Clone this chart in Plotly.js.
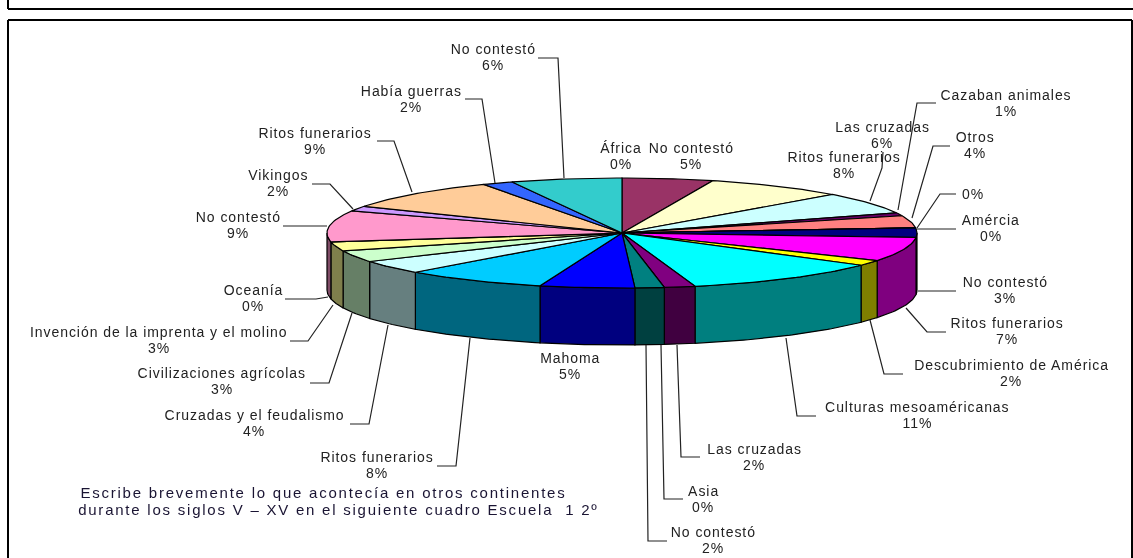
<!DOCTYPE html>
<html>
<head>
<meta charset="utf-8">
<script src="https://cdn.plot.ly/plotly-3.0.1.min.js"></script>
<style>
html,body{margin:0;padding:0;background:#fff;}
#chart{width:1133px;height:558px;filter:blur(0.35px);}
#chart .annotation-text{letter-spacing:0.95px;}
#chart .annotation[data-index="0"] .annotation-text,
#chart .annotation[data-index="1"] .annotation-text{letter-spacing:1.77px;}
</style>
</head>
<body>
<div id="chart"></div>
<script>
// ---- data (clockwise from 12 o'clock) ----
var categories = ["África","No contestó","Ritos funerarios","Las cruzadas","Cazaban animales","Otros","","Amércia","No contestó","Ritos funerarios","Descubrimiento de América","Culturas mesoaméricanas","Las cruzadas","Asia","No contestó","Mahoma","Ritos funerarios","Cruzadas y el feudalismo","Civilizaciones agrícolas","Invención de la imprenta y el molino","Oceanía","No contestó","Vikingos","Ritos funerarios","Había guerras","No contestó"];
var values = [0,5.0,7.7,6.4,0.9,3.6,0,0,2.8,7.1,1.6,11.1,1.7,0,1.6,5.2,7.9,4.0,3.4,2.7,0,9.2,1.5,9.2,1.7,6.1];
var colors = ["#9999FF","#993366","#FFFFCC","#CCFFFF","#660066","#FF8080","#0066CC","#CCCCFF","#000080","#FF00FF","#FFFF00","#00FFFF","#800080","#800000","#008080","#0000FF","#00CCFF","#CCFFFF","#CCFFCC","#FFFF99","#99CCFF","#FF99CC","#CC99FF","#FFCC99","#3366FF","#33CCCC"];
var noteLines = ["Escribe brevemente lo que acontecía en otros continentes","durante los siglos V – XV en el siguiente cuadro Escuela  1 2º"];

// ---- layout of the drawing (pixels of the 1133x558 canvas) ----
var CX=622, CY=233, RX=295, RY=55, DEPTH=57;
var labelX = [621,691,844,882,1006,975,973,991,1005,1007,1011,917,754,703,713,570,377,254,222,159,253,238,278,315,411,493];
var labelY = [156,156,165,135,103,145,194,228,290,331,373,415,457,499,540,366,465,423,381,340,298,225,183,141,99,57];
var noteX = [323.5,338.5], noteY = [492,509];
var leaders = [null,null,null,
 [[870,201],[882,168],[883,152]],
 [[898,210],[917,103],[936,103]],
 [[912,218],[933,146],[950,146]],
 [[917,228],[940,194],[956,194]],
 [[917,229],[956,229]],
 [[918,291],[956,291]],
 [[906,308],[927,332],[946,332]],
 [[870,320],[884,374],[903,374]],
 [[786,338],[797,416],[816,416]],
 [[677,345],[681,457],[700,457]],
 [[661,345],[664,499],[683,499]],
 [[646,345],[648,541],[667,541]],
 null,
 [[470,338],[456,466],[437,466]],
 [[388,325],[369,424],[350,424]],
 [[352,313],[329,383],[310,383]],
 [[333,305],[308,341],[290,341]],
 [[328,297],[316,299],[285,299]],
 [[327,226],[283,226]],
 [[353,209],[330,184],[312,184]],
 [[412,192],[394,141],[377,141]],
 [[495,183],[482,99],[465,99]],
 [[564,178],[558,58],[538,58]]];

function half(hex){
  var n=parseInt(hex.slice(1),16);
  var r=(n>>16)>>1,g=((n>>8)&255)>>1,b=(n&255)>>1;
  return "rgb("+r+","+g+","+b+")";
}
function pt(t,dy){var a=t*Math.PI/180;return [CX+RX*Math.sin(a),CY-RY*Math.cos(a)+(dy||0)];}
function arc(a,b,dy){
  var out=[],n=Math.max(2,Math.ceil(Math.abs(b-a)));
  for(var i=0;i<=n;i++){out.push(pt(a+(b-a)*i/n,dy));}
  return out;
}
var total=values.reduce(function(s,v){return s+v;},0);
var starts=[],ends=[],acc=0;
values.forEach(function(v){starts.push(acc/total*360);acc+=v;ends.push(acc/total*360);});

function poly(points,fill,name){
  return {type:"scatter",mode:"lines",x:points.map(function(p){return p[0];}),y:points.map(function(p){return p[1];}),
    fill:"toself",fillcolor:fill,line:{color:"#000",width:1.2},hoverinfo:"text",text:name,showlegend:false};
}
var traces=[];
// front walls
values.forEach(function(v,i){
  var a=Math.max(starts[i],90),b=Math.min(ends[i],270);
  if(v>0&&b>a){
    var top=arc(a,b,0),bot=arc(b,a,DEPTH);
    traces.push(poly(top.concat(bot,[top[0]]),half(colors[i]),categories[i]+" "+Math.round(v)+"%"));
  }
});
// top wedges
values.forEach(function(v,i){
  var c=[CX,CY];
  traces.push(poly([c].concat(arc(starts[i],ends[i],0),[c]),colors[i],categories[i]+" "+Math.round(v)+"%"));
});
// leader lines
leaders.forEach(function(l){
  if(!l)return;
  traces.push({type:"scatter",mode:"lines",x:l.map(function(p){return p[0];}),y:l.map(function(p){return p[1];}),
    line:{color:"#222",width:1.2},hoverinfo:"skip",showlegend:false});
});

function textAt(x,y,t,size,color){
  return {x:x,y:y,xref:"x",yref:"y",xanchor:"center",yanchor:"middle",showarrow:false,align:"center",
    text:t,font:{family:"Liberation Sans",size:size,color:color}};
}
var annotations=noteLines.map(function(t,i){return textAt(noteX[i],noteY[i],t,15,"#1a1433");});
categories.forEach(function(c,i){
  var pct=Math.round(values[i])+"%";
  if(c){
    annotations.push(textAt(labelX[i],labelY[i]-8,c,14,"#222"));
    annotations.push(textAt(labelX[i],labelY[i]+8,pct,14,"#222"));
  } else {
    annotations.push(textAt(labelX[i],labelY[i],pct,14,"#222"));
  }
});

var frame={color:"#000",width:2};
var layout={
  width:1133,height:558,margin:{l:0,r:0,t:0,b:0},
  paper_bgcolor:"#fff",plot_bgcolor:"#fff",showlegend:false,
  xaxis:{range:[0,1133],visible:false,fixedrange:true},
  yaxis:{range:[558,0],visible:false,fixedrange:true},
  annotations:annotations,
  shapes:[
    {type:"line",xref:"x",yref:"y",x0:8,y0:-2,x1:8,y1:9,line:frame},
    {type:"line",xref:"x",yref:"y",x0:8,y0:9,x1:1133,y1:9,line:frame},
    {type:"line",xref:"x",yref:"y",x0:8,y0:20,x1:1132,y1:20,line:frame},
    {type:"line",xref:"x",yref:"y",x0:8,y0:20,x1:8,y1:558,line:frame},
    {type:"line",xref:"x",yref:"y",x0:1132,y0:20,x1:1132,y1:558,line:frame}
  ]
};
Plotly.newPlot("chart",traces,layout,{displayModeBar:false,staticPlot:true});
</script>
</body>
</html>
